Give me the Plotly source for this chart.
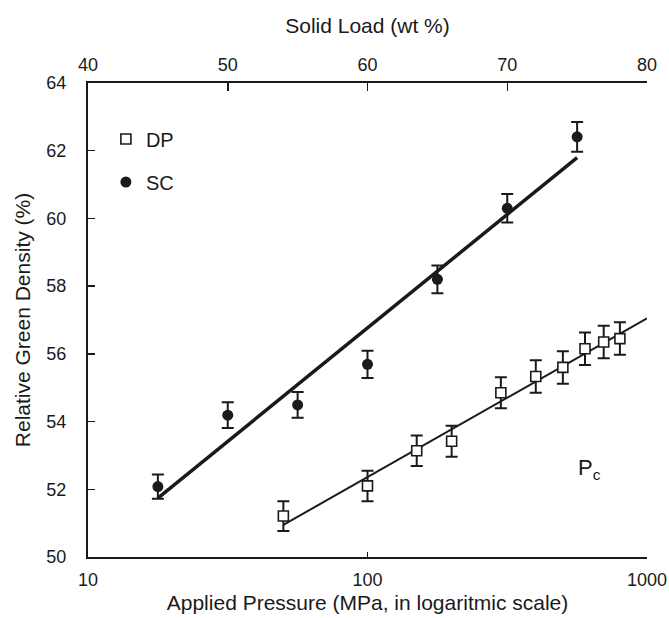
import numpy as np
import plotly.graph_objects as go

# ---- data ----
sc_load = [45, 50, 55, 60, 65, 70, 75]                 # Solid Load (wt %), top axis
sc_density = [52.08, 54.19, 54.49, 55.69, 58.20, 60.30, 62.41]
sc_err = [0.36, 0.38, 0.38, 0.40, 0.41, 0.42, 0.44]

dp_pressure = [50, 100, 150, 200, 300, 400, 500, 600, 700, 800]  # MPa, bottom log axis
dp_density = [51.21, 52.10, 53.14, 53.42, 54.85, 55.33, 55.60, 56.15, 56.35, 56.45]
dp_err = [0.44, 0.45, 0.45, 0.46, 0.46, 0.48, 0.48, 0.48, 0.48, 0.48]

bottom_ticks = [10, 100, 1000]
top_ticks = [40, 50, 60, 70, 80]
y_ticks = [50, 52, 54, 56, 58, 60, 62, 64]

# ---- fits ----
sc_coef = np.polyfit(sc_load, sc_density, 1)
sc_fit_x = [min(sc_load), max(sc_load)]
sc_fit_y = list(np.polyval(sc_coef, sc_fit_x))

dp_coef = np.polyfit(np.log10(dp_pressure), dp_density, 1)
dp_fit_x = [min(dp_pressure), 1000]
dp_fit_y = list(np.polyval(dp_coef, np.log10(dp_fit_x)))

FONT = "Liberation Sans, Arial, sans-serif"
INK = "#1a1a1a"

fig = go.Figure()

fig.add_trace(go.Scatter(x=dp_fit_x, y=dp_fit_y, mode="lines", xaxis="x", yaxis="y",
                         line=dict(color=INK, width=2), showlegend=False, hoverinfo="skip"))
fig.add_trace(go.Scatter(x=sc_fit_x, y=sc_fit_y, mode="lines", xaxis="x2", yaxis="y",
                         line=dict(color=INK, width=3.5), showlegend=False, hoverinfo="skip"))

fig.add_trace(go.Scatter(
    x=dp_pressure, y=dp_density, mode="markers", name="DP", xaxis="x", yaxis="y",
    legendgroup="dp",
    marker=dict(symbol="square", size=10, color="white", line=dict(color=INK, width=1.6)),
    error_y=dict(type="data", array=dp_err, visible=True, color=INK, thickness=2, width=6),
))
fig.add_trace(go.Scatter(
    x=sc_load, y=sc_density, mode="markers", name="SC", xaxis="x2", yaxis="y",
    legendgroup="sc",
    marker=dict(symbol="circle", size=11, color=INK, line=dict(width=0)),
    error_y=dict(type="data", array=sc_err, visible=True, color=INK, thickness=2, width=6),
))

fig.add_annotation(text="P<sub>c</sub>", x=np.log10(625), y=52.6, xref="x", yref="y",
                   showarrow=False, font=dict(family=FONT, size=22, color=INK))

fig.update_layout(
    width=669, height=618,
    margin=dict(l=88, r=22, t=83, b=61, autoexpand=False),
    paper_bgcolor="white", plot_bgcolor="white",
    font=dict(family=FONT, color=INK, size=18),
    showlegend=True,
    legend=dict(x=0.032, y=0.923, xanchor="left", yanchor="top",
                bgcolor="rgba(0,0,0,0)", font=dict(size=20, family=FONT, color=INK),
                traceorder="grouped", tracegroupgap=14, itemwidth=30),
    xaxis=dict(type="log", range=[1, 3], tickvals=bottom_ticks, ticktext=[str(v) for v in bottom_ticks],
               ticks="inside", ticklen=5, tickwidth=1.5, tickcolor=INK,
               showline=True, linecolor=INK, linewidth=2, showgrid=False, zeroline=False,
               ticklabelstandoff=5, tickfont=dict(size=18),
               title=dict(text="Applied Pressure (MPa, in logaritmic scale)", font=dict(size=21), standoff=7),
               automargin=False),
    xaxis2=dict(overlaying="x", side="top", range=[40, 80], tickvals=top_ticks,
                ticks="inside", ticklen=8, tickwidth=1.5, tickcolor=INK,
                showline=True, linecolor=INK, linewidth=2, showgrid=False, zeroline=False,
                ticklabelstandoff=3, tickfont=dict(size=18),
                title=dict(text="Solid Load (wt %)", font=dict(size=21), standoff=15),
                automargin=False),
    yaxis=dict(range=[50, 64], tickvals=y_ticks, ticks="inside", ticklen=7, tickwidth=1.5, tickcolor=INK,
               showline=True, linecolor=INK, linewidth=2, showgrid=False, zeroline=False,
               ticklabelstandoff=16, tickfont=dict(size=18),
               title=dict(text="Relative Green Density (%)", font=dict(size=21), standoff=10),
               automargin=False),
    yaxis2=dict(overlaying="y", side="right", range=[50, 64], showline=True, linecolor="#555555",
                linewidth=1.5, showticklabels=False, ticks="", showgrid=False, zeroline=False),
)

fig.write_html("out.html",
               config={"displayModeBar": False, "staticPlot": True},
               post_script="document.body.style.margin='0';document.body.style.padding='0';")
